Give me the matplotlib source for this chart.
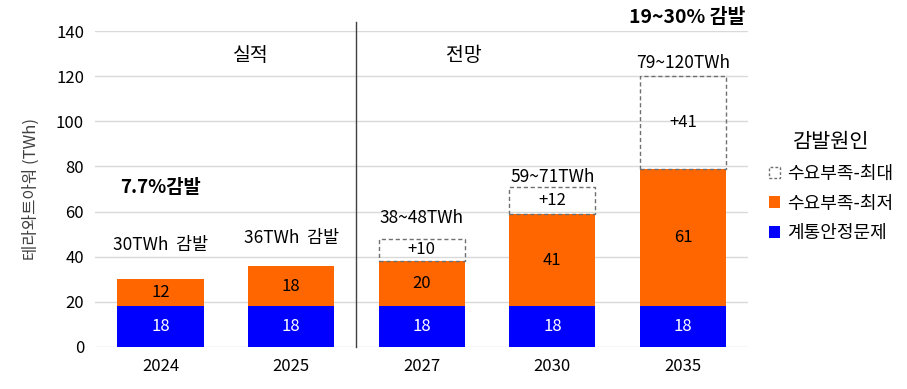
import numpy as np
import matplotlib.pyplot as plt
from matplotlib.patches import Patch

plt.rcParams['font.family'] = ['Noto Sans CJK KR', 'DejaVu Sans']

years = ['2024', '2025', '2027', '2030', '2035']
grid_issue = [18, 18, 18, 18, 18]          # 계통안정문제
demand_min = [12, 18, 20, 41, 61]          # 수요부족-최저
demand_max = [0, 0, 10, 12, 41]            # 수요부족-최대 (추가분)
top_labels = ['30TWh  감발', '36TWh  감발', '38~48TWh', '59~71TWh', '79~120TWh']

blue = '#0000FF'
orange = '#FF6600'

fig = plt.figure(figsize=(9.07, 3.89), dpi=100)
ax = fig.add_axes([0.105, 0.108, 0.72, 0.812])

x = np.arange(len(years))
w = 0.66
base = np.array(grid_issue)
mid = base + np.array(demand_min)

ax.bar(x, grid_issue, w, color=blue, zorder=2)
ax.bar(x, demand_min, w, bottom=base, color=orange, zorder=2)
for i, v in enumerate(demand_max):
    if v > 0:
        ax.bar(x[i], v, w, bottom=mid[i], facecolor='none', edgecolor='#707070',
               linestyle=(0, (3, 2)), linewidth=1.0, zorder=2)
        ax.text(x[i], mid[i] + v / 2, f'+{v}', ha='center', va='center', fontsize=12)

for i in range(len(years)):
    ax.text(x[i], grid_issue[i] / 2, str(grid_issue[i]), ha='center', va='center',
            color='white', fontsize=12)
    ax.text(x[i], base[i] + demand_min[i] / 2, str(demand_min[i]), ha='center',
            va='center', color='black', fontsize=12)

label_y = [45, 48.5, 57, 75.5, 126]
for i, t in enumerate(top_labels):
    ax.text(x[i], label_y[i], t, ha='center', va='center', fontsize=12.5)

ax.text(0, 70.5, '7.7%감발', ha='center', va='center', fontsize=13.5, fontweight='bold')
ax.text(4.03, 146, '19~30% 감발', ha='center', va='center', fontsize=14,
        fontweight='bold', clip_on=False)
ax.text(0.69, 129, '실적', ha='center', va='center', fontsize=14)
ax.text(2.32, 129, '전망', ha='center', va='center', fontsize=14)
ax.plot([1.5, 1.5], [0, 144], color='#404040', linewidth=1.0, clip_on=False, zorder=3)

ax.set_xlim(-0.5, 4.5)
ax.set_ylim(0, 140)
ax.set_yticks(np.arange(0, 141, 20))
ax.set_xticks(x)
ax.set_xticklabels(years)
ax.tick_params(length=0, labelsize=12, pad=8)
ax.yaxis.grid(True, color='#D9D9D9', linewidth=1.0, zorder=0)
ax.set_axisbelow(True)
for s in ax.spines.values():
    s.set_visible(False)
ax.set_ylabel('테라와트아워 (TWh)', fontsize=12, color='#404040', labelpad=12)

handles = [
    Patch(facecolor='none', edgecolor='#707070', linestyle=(0, (2, 1.5)), linewidth=1.0),
    Patch(facecolor=orange),
    Patch(facecolor=blue),
]
labels = ['수요부족-최대', '수요부족-최저', '계통안정문제']
leg = fig.legend(handles, labels, title='감발원인', loc='center left',
                 bbox_to_anchor=(0.83, 0.52), frameon=False, fontsize=13,
                 title_fontsize=15, handlelength=0.6, handleheight=0.6,
                 handletextpad=0.4, labelspacing=0.65)

fig.savefig('out.png', dpi=100)
